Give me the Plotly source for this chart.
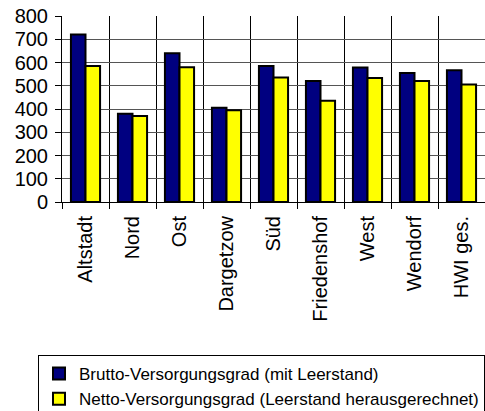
import plotly.graph_objects as go

categories = ["Altstadt", "Nord", "Ost", "Dargetzow", "Süd", "Friedenshof", "West", "Wendorf", "HWI ges."]
brutto = [720, 380, 640, 405, 585, 520, 578, 555, 567]
netto = [585, 370, 580, 395, 535, 435, 533, 520, 505]
names = ["Brutto-Versorgungsgrad (mit Leerstand)", "Netto-Versorgungsgrad (Leerstand herausgerechnet)"]
colors = ["#000080", "#FFFF00"]

fig = go.Figure()
for vals, name, col in zip([brutto, netto], names, colors):
    fig.add_trace(go.Bar(
        x=categories, y=vals, name=name,
        marker=dict(color=col, line=dict(color="black", width=2)),
    ))

font_family = "Liberation Sans, Arial, sans-serif"
fig.update_layout(
    width=485, height=411,
    margin=dict(l=62, r=0, t=16, b=209, autoexpand=False),
    paper_bgcolor="white", plot_bgcolor="white",
    barmode="group", bargap=0.38, bargroupgap=0,
    font=dict(family=font_family, color="black", size=20),
    showlegend=True,
    legend=dict(
        x=1.0, xanchor="right", y=(202 - 355) / 186, yanchor="top",
        bordercolor="black", borderwidth=1, bgcolor="white",
        font=dict(size=17, family=font_family),
        traceorder="normal",
    ),
    xaxis=dict(
        type="category", tickson="boundaries", showgrid=True, gridcolor="black", gridwidth=1,
        showline=True, linecolor="black", linewidth=1,
        ticks="outside", ticklen=6, tickcolor="black",
        tickangle=-90, tickfont=dict(size=20), ticklabelstandoff=5,
    ),
    yaxis=dict(
        range=[0, 800], dtick=100, showgrid=True, gridcolor="#555555", gridwidth=1,
        showline=True, linecolor="black", linewidth=1, zeroline=False,
        ticks="outside", ticklen=6, tickcolor="black",
        tickfont=dict(size=20), ticklabelstandoff=3,
    ),
)

fig.write_html("out.html")
